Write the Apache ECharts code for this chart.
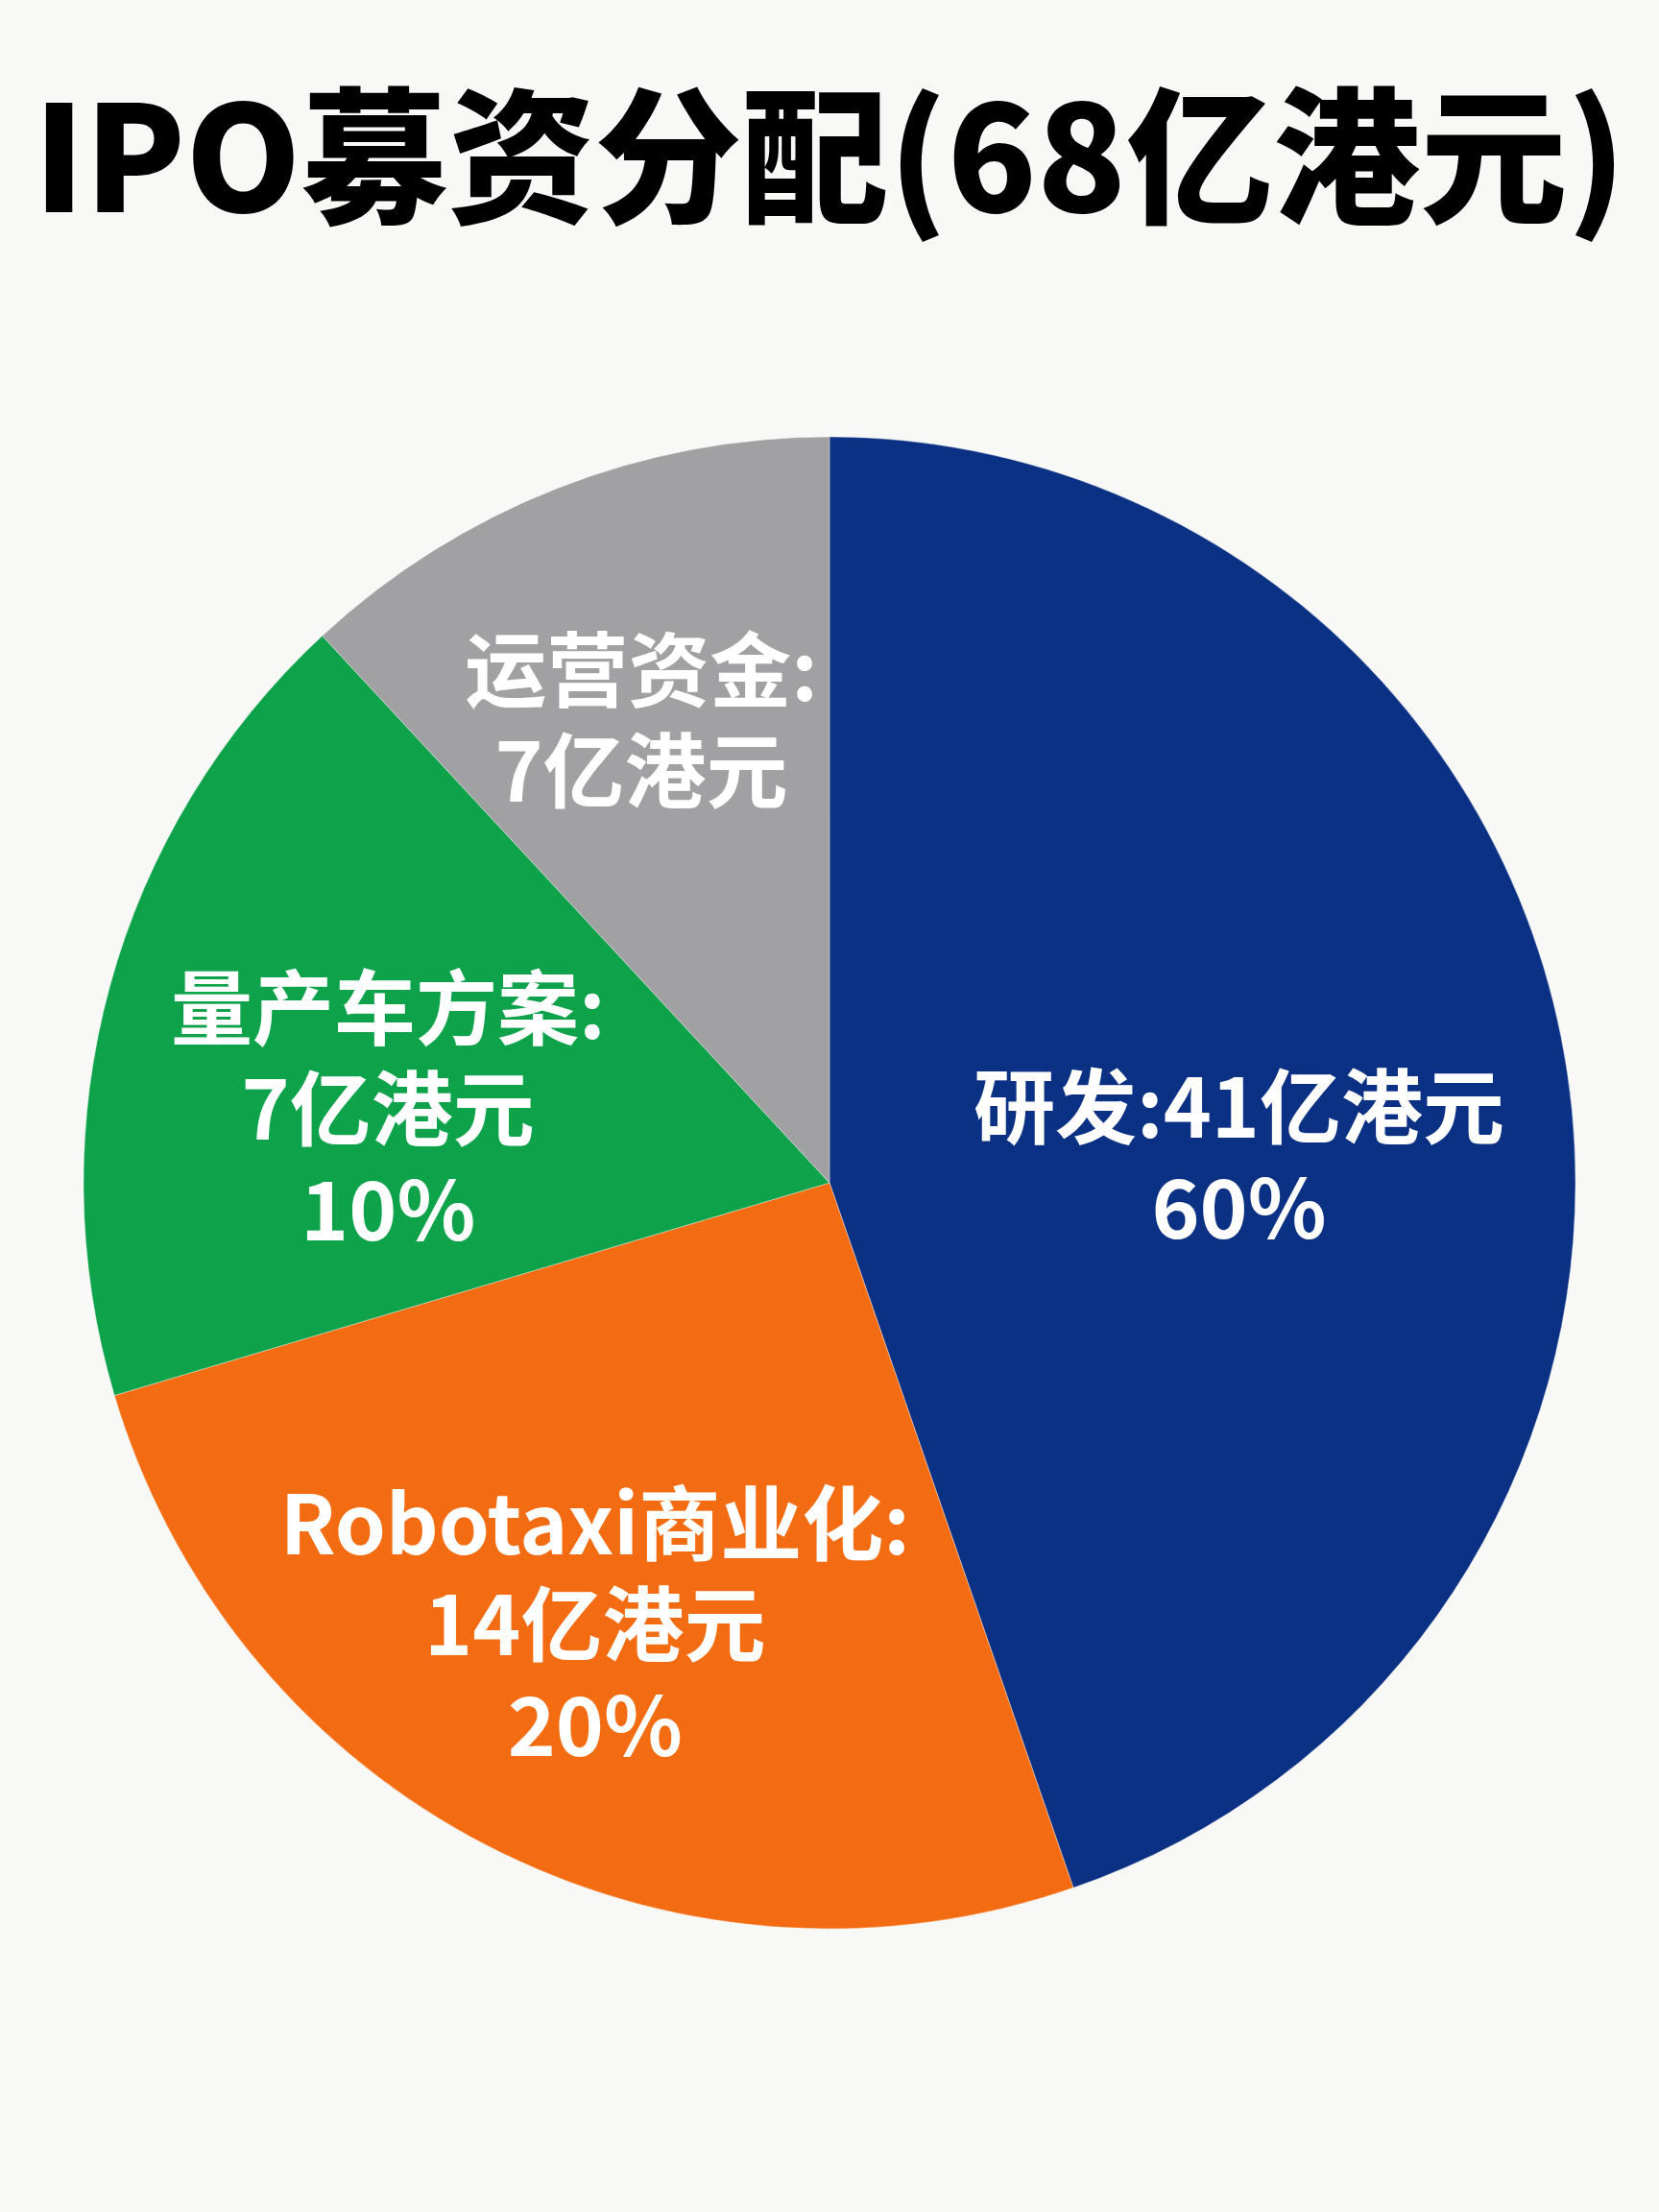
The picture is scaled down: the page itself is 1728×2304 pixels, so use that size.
<!DOCTYPE html>
<html>
<head>
<meta charset="utf-8">
<script src="https://cdn.jsdelivr.net/npm/echarts@6/dist/echarts.min.js"></script>
<style>
html,body{margin:0;padding:0;background:#f8f8f6;}
#chart{width:1728px;height:2304px;}
</style>
</head>
<body>
<div id="chart"></div>
<script>
// ---- data ----
const titleText = 'IPO募资分配(68亿港元)';
const categories = ['研发', 'Robotaxi商业化', '量产车方案', '运营资金'];
const amountLabels = ['41亿港元', '14亿港元', '7亿港元', '7亿港元'];
const percentLabels = ['60%', '20%', '10%', ''];
// angular share of each slice as drawn in the picture (percent of the full circle)
const sliceShares = [44.7, 25.7, 17.7, 11.9];

// ---- styling / layout ----
const colors = ['#0b3185', '#f46c12', '#0ea34b', '#a1a1a3'];
const CX = 864, CY = 1232, R = 777;
const labelAngleOffsets = [5.9, 0.8, -5.8, -0.7];
const labelRadiusFrac = [0.55, 0.67, 0.60, 0.67];
const labelJoin = [':', ':\n', ':\n', ':\n'];

function labelText(i) {
  let s = categories[i] + labelJoin[i] + amountLabels[i];
  if (percentLabels[i]) s += '\n' + percentLabels[i];
  return s;
}

const total = sliceShares.reduce((a, b) => a + b, 0);
let acc = 0;
const midAngles = sliceShares.map(v => { const m = (acc + v / 2) / total * 360; acc += v; return m; });

const chart = echarts.init(document.getElementById('chart'), null, { renderer: 'canvas' });
const option = {
  backgroundColor: '#f8f8f6',
  animation: false,
  title: {
    text: titleText,
    left: 'center',
    top: 86,
    padding: [0, 0, 0, 24],
    textStyle: {
      fontSize: 153,
      fontWeight: 900,
      color: '#000000',
      fontFamily: '"Noto Sans CJK SC", "Noto Sans", sans-serif'
    }
  },
  series: [{
    type: 'pie',
    center: [CX, CY],
    radius: R,
    startAngle: 90,
    clockwise: true,
    silent: true,
    emphasis: { disabled: true },
    itemStyle: { borderColor: 'rgba(255,255,255,0.35)', borderWidth: 1 },
    data: categories.map((c, i) => ({ name: c, value: sliceShares[i], itemStyle: { color: colors[i] } })),
    label: {
      show: true,
      position: 'inside',
      formatter: p => labelText(p.dataIndex),
      color: '#ffffff',
      fontSize: 85,
      lineHeight: 105,
      fontWeight: 600,
      fontFamily: '"Noto Sans CJK SC", "Noto Sans", sans-serif',
      align: 'center',
      verticalAlign: 'middle'
    },
    labelLine: { show: false },
    labelLayout: function (p) {
      const i = p.dataIndex;
      const a = (midAngles[i] + labelAngleOffsets[i]) * Math.PI / 180;
      const rr = labelRadiusFrac[i] * R;
      return { x: CX + rr * Math.sin(a), y: CY - rr * Math.cos(a), hideOverlap: false };
    }
  }]
};
chart.setOption(option);
</script>
</body>
</html>
